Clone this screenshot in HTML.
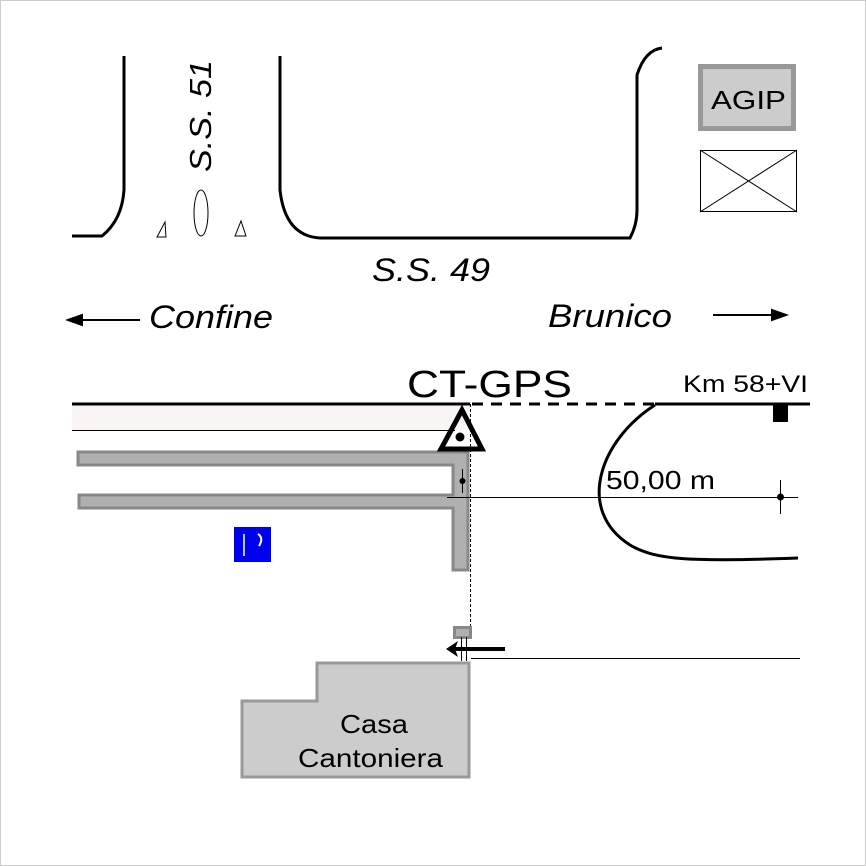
<!DOCTYPE html>
<html><head><style>
html,body{margin:0;padding:0;background:#fff}
svg{display:block}
text{font-family:"Liberation Sans",sans-serif}
</style></head><body>
<svg width="866" height="866" viewBox="0 0 866 866" xmlns="http://www.w3.org/2000/svg">
<rect x="0.5" y="0.5" width="865" height="865" fill="#fff" stroke="#999" stroke-dasharray="1,1"/>
<g fill="none" stroke="#000" stroke-width="3">
<path d="M72,236 L102,236 Q122,220 124,190 L124,56"/>
<path d="M280,56 L280,190 Q285,236 320,238 L630,238 Q637,225 637,210 L637,75 Q645,50 662,48"/>
</g>
<g fill="none" stroke="#000" stroke-width="1">
<path d="M157,237 L166,237 L165,222 Z"/>
<path d="M235,236 L246,236 L241,221 Z"/>
<ellipse cx="201" cy="213" rx="7" ry="23"/>
</g>
<text x="0" y="0" font-size="31" font-style="italic" textLength="112" lengthAdjust="spacingAndGlyphs" transform="translate(211,172) rotate(-90)">S.S. 51</text>
<text x="372" y="281" font-size="32" font-style="italic" textLength="118" lengthAdjust="spacingAndGlyphs">S.S. 49</text>
<text x="149" y="328" font-size="32" font-style="italic" textLength="124" lengthAdjust="spacingAndGlyphs">Confine</text>
<text x="548" y="327" font-size="32" font-style="italic" textLength="124" lengthAdjust="spacingAndGlyphs">Brunico</text>
<g stroke="#000" stroke-width="2" fill="#000">
<line x1="76" y1="320" x2="140" y2="320"/><path d="M68,320 L82,315 L82,325 Z"/>
<line x1="713" y1="315" x2="778" y2="315"/><path d="M786,315 L772,310 L772,320 Z"/>
</g>
<rect x="700.5" y="66.5" width="93" height="62" fill="#ccc" stroke="#999" stroke-width="5"/>
<text x="711" y="109" font-size="26" textLength="75" lengthAdjust="spacingAndGlyphs">AGIP</text>
<g fill="none" stroke="#000" stroke-width="1">
<rect x="700.5" y="150.5" width="96" height="61"/>
<line x1="700" y1="150" x2="797" y2="212"/><line x1="797" y1="150" x2="700" y2="212"/>
</g>
<rect x="72" y="406" width="398" height="24" fill="#faf5f5"/>
<line x1="72" y1="430.5" x2="455" y2="430.5" stroke="#000" stroke-width="1"/>
<line x1="72" y1="404" x2="470" y2="404" stroke="#000" stroke-width="3"/>
<line x1="472" y1="404" x2="655" y2="404" stroke="#000" stroke-width="3" stroke-dasharray="11,8"/>
<line x1="655" y1="404" x2="810" y2="404" stroke="#000" stroke-width="3"/>
<text x="407" y="397" font-size="38" textLength="165" lengthAdjust="spacingAndGlyphs">CT-GPS</text>
<text x="683" y="392" font-size="24" textLength="125" lengthAdjust="spacingAndGlyphs">Km 58+VI</text>
<rect x="773" y="405" width="15" height="17" fill="#000"/>
<path d="M655,405 C600,440 575,510 630,545 C655,560 690,562 798,558" fill="none" stroke="#000" stroke-width="3"/>
<path d="M78,452 L468,452 L468,570 L453,570 L453,508 L79,508 L79,495 L453,495 L453,465 L78,465 Z" fill="#b0b0b0" stroke="#888" stroke-width="3"/>
<line x1="470.5" y1="404" x2="470.5" y2="630" stroke="#000" stroke-width="1" stroke-dasharray="3,2"/>
<path d="M462,410 L482,449 L441,449 Z" fill="none" stroke="#000" stroke-width="5"/>
<circle cx="460" cy="437" r="4.5" fill="#000"/>
<line x1="447" y1="497.5" x2="798" y2="497.5" stroke="#000" stroke-width="1"/>
<line x1="462.5" y1="469" x2="462.5" y2="493" stroke="#000" stroke-width="1"/><circle cx="462.5" cy="481" r="3" fill="#000"/>
<line x1="780.5" y1="480" x2="780.5" y2="514" stroke="#000" stroke-width="1"/><circle cx="780.5" cy="497" r="3.5" fill="#000"/>
<text x="606" y="489" font-size="26" textLength="109" lengthAdjust="spacingAndGlyphs">50,00 m</text>
<rect x="234" y="527" width="37" height="35" fill="#0000f0"/>
<line x1="244" y1="534" x2="244" y2="556" stroke="#fff" stroke-width="1.5"/>
<path d="M258,534 Q264,538 259,546" fill="none" stroke="#fff" stroke-width="2"/>
<rect x="454.5" y="627.5" width="16" height="10" fill="#b0b0b0" stroke="#888" stroke-width="3"/>
<line x1="461.5" y1="637" x2="461.5" y2="661" stroke="#000" stroke-width="1"/>
<line x1="466.5" y1="637" x2="466.5" y2="661" stroke="#000" stroke-width="1"/>
<line x1="455" y1="649" x2="505" y2="649" stroke="#000" stroke-width="4"/>
<path d="M446,649 L458,641 L455,649 L458,657 Z" fill="#000"/>
<line x1="471" y1="658.5" x2="800" y2="658.5" stroke="#000" stroke-width="1"/>
<path d="M242,701 L317,701 L317,663 L469,663 L469,777 L242,777 Z" fill="#ccc" stroke="#999" stroke-width="3"/>
<text x="340" y="733" font-size="26" textLength="68" lengthAdjust="spacingAndGlyphs">Casa</text>
<text x="298" y="767" font-size="26" textLength="145" lengthAdjust="spacingAndGlyphs">Cantoniera</text>
</svg>
</body></html>
